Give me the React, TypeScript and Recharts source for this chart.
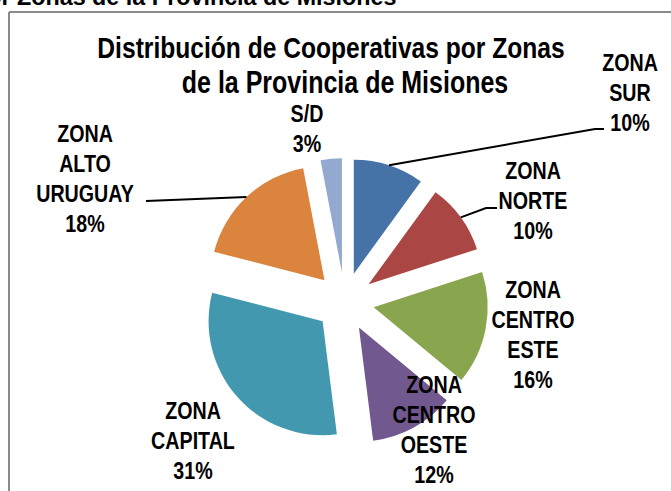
import React from 'react';
import { PieChart, Pie, Cell } from 'recharts';

const categories = ['ZONA SUR', 'ZONA NORTE', 'ZONA CENTRO ESTE', 'ZONA CENTRO OESTE', 'ZONA CAPITAL', 'ZONA ALTO URUGUAY', 'S/D'];
const values = [10, 10, 16, 12, 31, 18, 3];
const colors = ['#4572A7', '#AA4643', '#89A54E', '#71588F', '#4198AF', '#DB843D', '#93A9CF'];
const titleLines = ['Distribución de Cooperativas por Zonas', 'de la Provincia de Misiones'];
const captionText = 'por Zonas de la Provincia de Misiones';

const data = categories.map((name, i) => ({ name, value: values[i] }));
const total = values.reduce((a, b) => a + b, 0);

const W = 671;
const H = 491;
const CX = 344.7;
const CY = 301.7;
const R = 114;
const EXPLODE = 29.5;
const LABEL_FONT = 24;
const LINE_H = 30;
const FONT = "'Liberation Sans', Arial, sans-serif";
const NARROW_SCALE = 0.82;

// label layout: centre x, centre y of first line, optional leader line points
const labelLayout: { x: number; y: number; leader?: number[][] }[] = [
  { x: 630, y: 62, leader: [[595, 129], [604, 129]] },
  { x: 533, y: 170, leader: [[486, 208], [497, 208]] },
  { x: 533, y: 289 },
  { x: 434, y: 384 },
  { x: 193, y: 410 },
  { x: 85, y: 133, leader: [[146, 201]] },
  { x: 307, y: 113 },
];
const titleLayout = [
  { x: 331, y: 58, size: 30 },
  { x: 345, y: 93, size: 30.5 },
];

const RAD = Math.PI / 180;

function NarrowText({ x, y, size, children }: { x: number; y: number; size: number; children: React.ReactNode }) {
  return (
    <text
      transform={`translate(${x} ${y}) scale(${NARROW_SCALE} 1)`}
      x={0}
      y={0}
      textAnchor="middle"
      fontFamily={FONT}
      fontWeight="bold"
      fontSize={size}
      fill="#000"
    >
      {children}
    </text>
  );
}

function renderLabel(p: any, sel: number) {
  if (p.index !== sel) return <g key={`e-${sel}-${p.index}`} />;
  const lay = labelLayout[sel];
  const name: string = p.name;
  const words = name.split(' ');
  const lines = [...words, `${Math.round(p.percent * 100)}%`];
  const mid = p.midAngle;
  const sx = p.cx + p.outerRadius * Math.cos(-mid * RAD);
  const sy = p.cy + p.outerRadius * Math.sin(-mid * RAD);
  let path = '';
  if (lay.leader) {
    path = `M${sx},${sy}` + lay.leader.map((pt) => ` L${pt[0]},${pt[1]}`).join('');
  }
  return (
    <g key={`l-${sel}`}>
      {path && <path d={path} stroke="#000" strokeWidth={2} fill="none" />}
      {lines.map((t, k) => (
        <NarrowText key={k} x={lay.x} y={lay.y + k * LINE_H + LABEL_FONT * 0.36} size={LABEL_FONT}>
          {t}
        </NarrowText>
      ))}
    </g>
  );
}

export default function App() {
  let cum = 0;
  const pies = values.map((v, i) => {
    const mid = 90 - (360 * (cum + v / 2)) / total;
    cum += v;
    const cx = CX + EXPLODE * Math.cos(mid * RAD);
    const cy = CY - EXPLODE * Math.sin(mid * RAD);
    return (
      <Pie
        key={i}
        data={data}
        dataKey="value"
        nameKey="name"
        cx={cx}
        cy={cy}
        innerRadius={0}
        outerRadius={R}
        startAngle={90}
        endAngle={-270}
        isAnimationActive={false}
        stroke="none"
        labelLine={false}
        label={(p: any) => renderLabel(p, i)}
      >
        {data.map((e, j) => (
          <Cell key={j} fill={j === i ? colors[j] : 'none'} stroke="none" />
        ))}
      </Pie>
    );
  });

  return (
    <div style={{ position: 'absolute', left: 0, top: 0, width: W, height: H, overflow: 'hidden', background: '#fff' }}>
      <svg width={W} height={H} style={{ position: 'absolute', left: 0, top: 0 }}>
        <text x={-27} y={5} fontFamily={FONT} fontWeight="bold" fontSize={23.3} fill="#000">
          {captionText}
        </text>
        <line x1={9} y1={12} x2={W} y2={12} stroke="#8a8a8a" strokeWidth={2} />
        <line x1={9} y1={12} x2={9} y2={H} stroke="#8a8a8a" strokeWidth={2} />
        {titleLines.map((t, k) => (
          <NarrowText key={k} x={titleLayout[k].x} y={titleLayout[k].y} size={titleLayout[k].size}>
            {t}
          </NarrowText>
        ))}
      </svg>
      <div style={{ position: 'absolute', left: 0, top: 0 }}>
        <PieChart width={W} height={H} margin={{ top: 0, right: 0, bottom: 0, left: 0 }}>
          {pies}
        </PieChart>
      </div>
    </div>
  );
}
